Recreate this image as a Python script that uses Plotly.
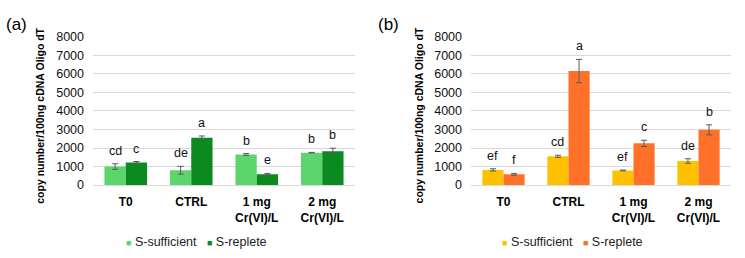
import plotly.graph_objects as go

categories = ["<b>T0</b>", "<b>CTRL</b>", "<b>1 mg<br>Cr(VI)/L</b>", "<b>2 mg<br>Cr(VI)/L</b>"]

# Panel (a)
a_suff = [1000, 800, 1650, 1750]
a_suff_err = [150, 210, 50, 15]
a_repl = [1220, 2550, 580, 1820]
a_repl_err = [50, 100, 50, 170]
a_suff_letters = ["cd", "de", "b", "b"]
a_repl_letters = ["c", "a", "e", "b"]

# Panel (b)
b_suff = [820, 1550, 790, 1300]
b_suff_err = [60, 60, 20, 120]
b_repl = [580, 6150, 2250, 2980]
b_repl_err = [50, 630, 170, 270]
b_suff_letters = ["ef", "cd", "ef", "de"]
b_repl_letters = ["f", "a", "c", "b"]

C_LG = "#5CD66C"
C_DG = "#0A8A1F"
C_YE = "#FFC000"
C_OR = "#FF7128"
ERR_C = "#595959"
FONT = "Liberation Sans, Arial, sans-serif"
W, H = 745, 258

fig = go.Figure()

def add_bars(vals, errs, color, xa, ya, name):
    fig.add_trace(go.Bar(
        x=categories, y=vals, name=name, marker_color=color,
        marker_line_width=0, xaxis=xa, yaxis=ya, showlegend=False,
        error_y=dict(type="data", array=errs, color=ERR_C, thickness=1, width=3),
    ))

add_bars(a_suff, a_suff_err, C_LG, "x", "y", "S-sufficient")
add_bars(a_repl, a_repl_err, C_DG, "x", "y", "S-replete")
add_bars(b_suff, b_suff_err, C_YE, "x2", "y2", "S-sufficient")
add_bars(b_repl, b_repl_err, C_OR, "x2", "y2", "S-replete")

annotations = []
def add_letters(vals, errs, letters, xref, yref, shift):
    for c, v, e, t in zip(categories, vals, errs, letters):
        annotations.append(dict(x=c, y=v + e, xref=xref, yref=yref, text=t,
                                showarrow=False, xshift=shift, yshift=4,
                                yanchor="bottom", font=dict(size=12.5, color="#111", family=FONT)))

add_letters(a_suff, a_suff_err, a_suff_letters, "x", "y", -10.7)
add_letters(a_repl, a_repl_err, a_repl_letters, "x", "y", 10.7)
add_letters(b_suff, b_suff_err, b_suff_letters, "x2", "y2", -10.7)
add_letters(b_repl, b_repl_err, b_repl_letters, "x2", "y2", 10.7)

ytitle = "<b>copy number/100ng cDNA Oligo dT</b>"
for xp in (40 / W, 418.7 / W):
    annotations.append(dict(x=xp, y=1 - 115 / H, xref="paper", yref="paper", text=ytitle,
                            textangle=-90, showarrow=False, xanchor="center", yanchor="middle",
                            font=dict(size=10.5, color="#000", family=FONT)))

for xp, t in ((4 / W, "(a)"), (376 / W, "(b)")):
    annotations.append(dict(x=xp, y=1 - 19 / H, xref="paper", yref="paper", text=t,
                            showarrow=False, xanchor="left", yanchor="middle",
                            font=dict(size=17, color="#000", family=FONT)))

def legend_text(c1, c2):
    sq = "<span style='color:%s;font-size:9px'>■</span>"
    return (sq % c1) + " S-sufficient   " + (sq % c2) + " S-replete"

for xp, c1, c2 in ((196 / W, C_LG, C_DG), (572 / W, C_YE, C_OR)):
    annotations.append(dict(x=xp, y=1 - 248 / H, xref="paper", yref="paper",
                            text=legend_text(c1, c2), showarrow=False,
                            xanchor="center", yanchor="middle",
                            font=dict(size=12.5, color="#222", family=FONT)))

yax = dict(range=[0, 8000], dtick=1000, showgrid=True, gridcolor="#D9D9D9", gridwidth=1,
           zeroline=False, showline=False, ticks="", ticklabelstandoff=8,
           tickfont=dict(size=12.5, color="#111", family=FONT), fixedrange=True,
           domain=[1 - 188.3 / H, 1 - 31.5 / H])
xax = dict(showgrid=False, zeroline=False, showline=True, linecolor="#D9D9D9", linewidth=1,
           ticks="", ticklabelstandoff=6, tickfont=dict(size=12, color="#000", family=FONT))

fig.update_layout(
    width=W, height=H, margin=dict(l=0, r=0, t=0, b=0),
    paper_bgcolor="white", plot_bgcolor="white",
    barmode="group", bargap=0.35, bargroupgap=0,
    xaxis=dict(xax, domain=[93 / W, 355 / W], anchor="y"),
    yaxis=dict(yax, anchor="x"),
    xaxis2=dict(xax, domain=[471 / W, 731 / W], anchor="y2"),
    yaxis2=dict(yax, anchor="x2"),
    annotations=annotations,
    showlegend=False,
)

fig.write_html("out.html")
